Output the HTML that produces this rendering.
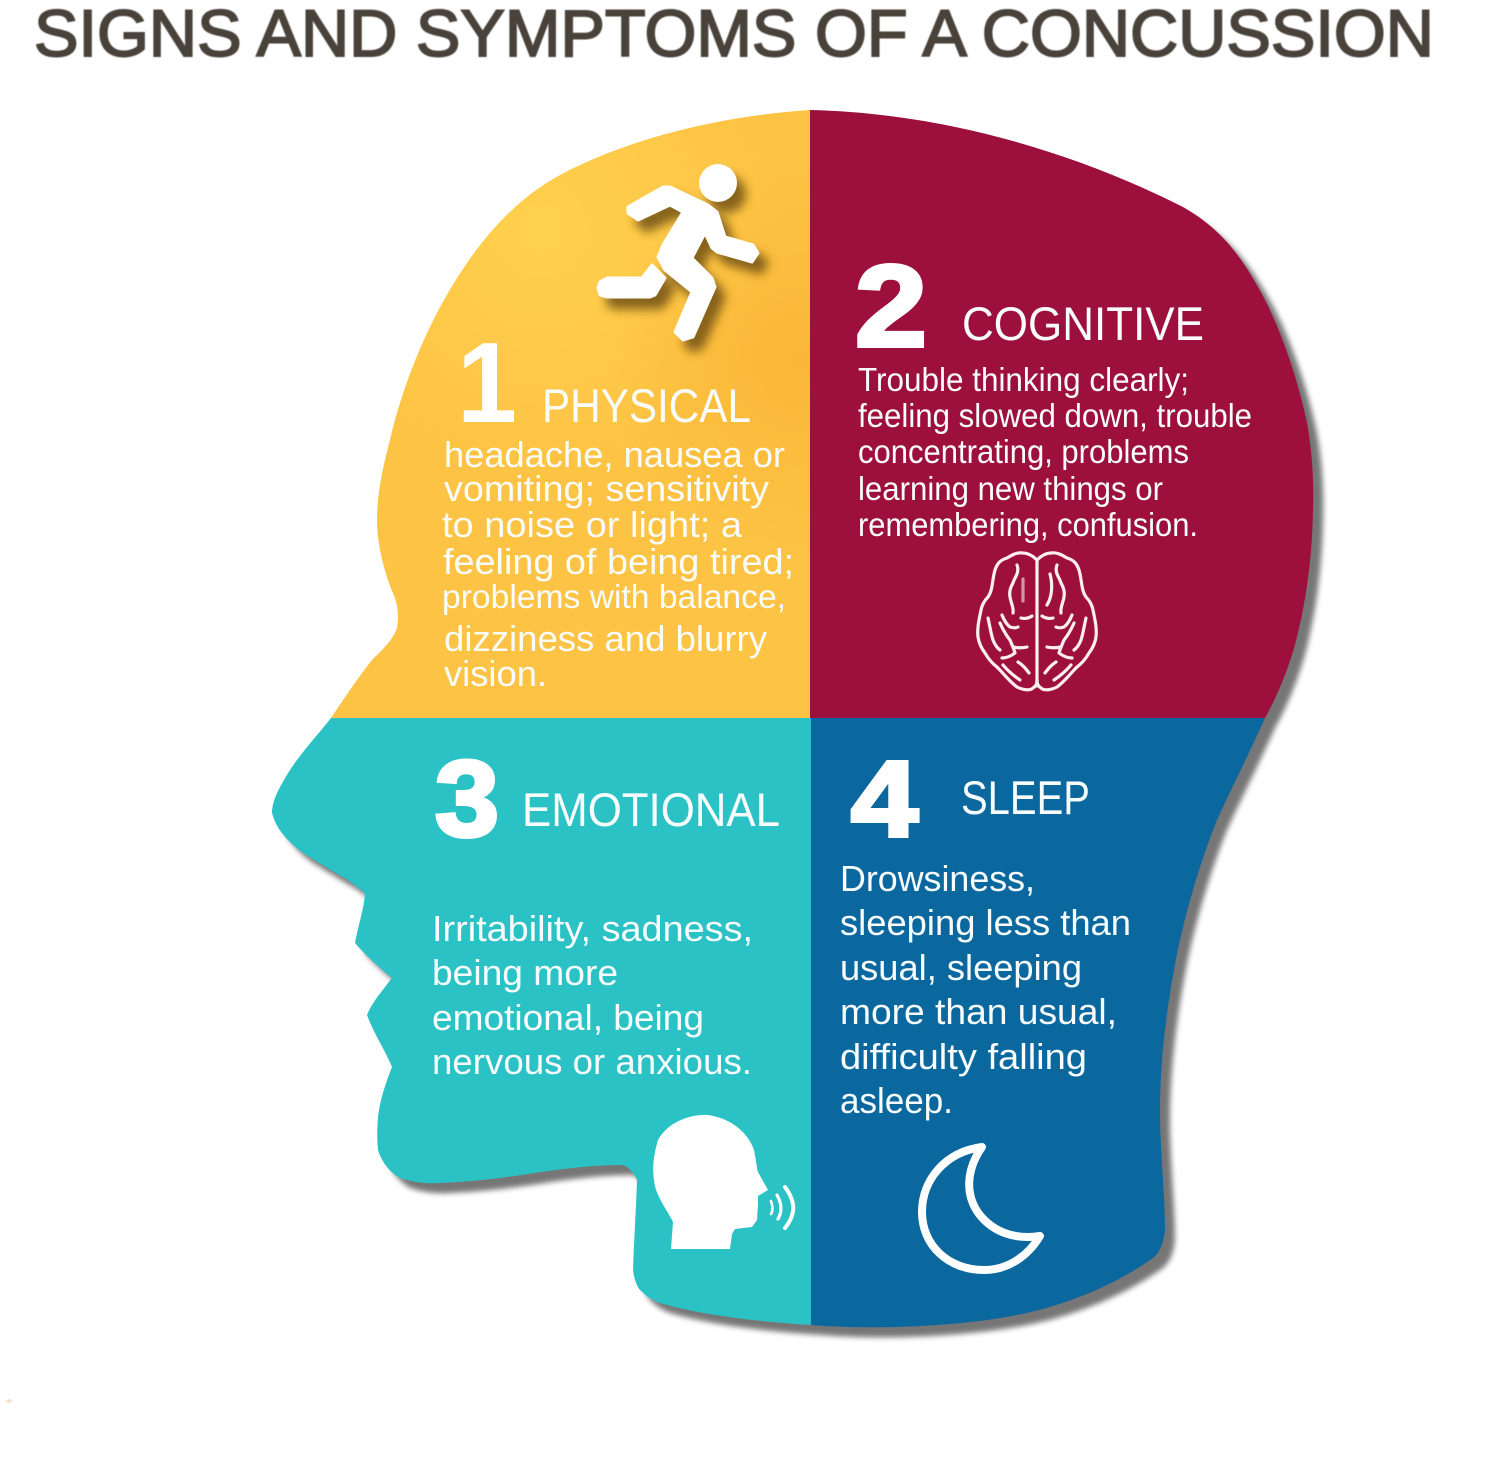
<!DOCTYPE html>
<html><head><meta charset="utf-8"><style>
html,body{margin:0;padding:0;background:#fff;width:1500px;height:1461px;overflow:hidden}
svg{display:block}
text{font-family:"Liberation Sans",sans-serif;fill:#f8fcfc}
.b{font-size:36px}
.h{font-size:47px}
.n{font-weight:bold;font-size:108px;stroke:#fff;stroke-width:4px;fill:#fff}
</style></head><body>
<svg width="1500" height="1461" viewBox="0 0 1500 1461" xmlns="http://www.w3.org/2000/svg">
<defs>
<filter id="s" x="-10%" y="-10%" width="120%" height="120%"><feGaussianBlur stdDeviation="2.6"/></filter>
<filter id="i" x="-30%" y="-30%" width="160%" height="160%"><feGaussianBlur stdDeviation="5"/></filter>
<filter id="t" x="-2%" y="-20%" width="104%" height="140%"><feGaussianBlur stdDeviation="0.6"/></filter>
<radialGradient id="o" gradientUnits="userSpaceOnUse" cx="800" cy="360" r="190"><stop offset="0" stop-color="#f8ac2c" stop-opacity=".55"/><stop offset="1" stop-color="#f8ac2c" stop-opacity="0"/></radialGradient>
<radialGradient id="y" gradientUnits="userSpaceOnUse" cx="540" cy="230" r="240"><stop offset="0" stop-color="#ffd04e"/><stop offset="1" stop-color="#fdc344"/></radialGradient>
</defs>
<ellipse cx="9" cy="1401" rx="3" ry="2" fill="#f3e6c8"/>
<text x="34" y="56" font-size="66" stroke="#49433b" stroke-width="1.9" textLength="1400" lengthAdjust="spacingAndGlyphs" filter="url(#t)" style="fill:#49433b">SIGNS AND SYMPTOMS OF A CONCUSSION</text>

<path d="M810 110C720 116 630 138 560 175C510 202 470 250 437 313C420 345 400 395 390 440C382 470 377 495 377 520C377 545 385 575 393 593C398 605 399 615 397 628C393 640 382 650 372 660C360 675 345 697 331 718C320 732 308 745 297 760C288 772 282 783 277 793C273 802 272 808 272 813C274 820 277 827 282 833C288 841 295 847 303 853C318 862 332 871 348 880L365 893C364 910 358 925 355 943C365 955 380 968 392 978C383 990 372 1002 367 1015C373 1032 385 1050 392 1067C385 1085 380 1100 378 1117C377 1130 377 1140 378 1150C382 1163 390 1172 400 1178C412 1182 425 1184 440 1183C462 1182 485 1180 507 1177C530 1174 552 1170 573 1168C590 1166 608 1165 623 1165C630 1168 634 1173 637 1180C636 1210 634 1240 633 1270C634 1278 636 1285 640 1290C646 1296 652 1300 660 1303C700 1315 760 1322 811 1325C870 1330 980 1328 1050 1307C1090 1295 1125 1278 1153 1258C1160 1252 1164 1243 1165 1229C1165 1195 1160 1150 1160 1110C1160 1055 1168 1000 1177 954C1188 900 1205 850 1217 820C1233 785 1250 752 1265 718C1278 695 1290 665 1297 637C1306 600 1312 560 1313 510C1314 480 1312 450 1307 423C1298 380 1280 325 1258 287C1240 255 1220 228 1183 207C1070 150 940 113 810 110Z" fill="#5e5e5e" opacity=".85" filter="url(#s)" transform="translate(10,10)"/>

<path d="M810 110C720 116 630 138 560 175C510 202 470 250 437 313C420 345 400 395 390 440C382 470 377 495 377 520C377 545 385 575 393 593C398 605 399 615 397 628C393 640 382 650 372 660C360 675 345 697 331 718L330 720L810 720Z" fill="url(#y)"/>
<path d="M810 150L610 150L610 560L810 560Z" fill="url(#o)"/>
<path d="M810 110C940 113 1070 150 1183 207C1220 228 1240 255 1258 287C1280 325 1298 380 1307 423C1312 450 1314 480 1313 510C1312 560 1306 600 1297 637C1290 665 1278 695 1265 718L810 718Z" fill="#9d0f3c"/>
<path d="M331 718C320 732 308 745 297 760C288 772 282 783 277 793C273 802 272 808 272 813C274 820 277 827 282 833C288 841 295 847 303 853C318 862 332 871 348 880L365 893C364 910 358 925 355 943C365 955 380 968 392 978C383 990 372 1002 367 1015C373 1032 385 1050 392 1067C385 1085 380 1100 378 1117C377 1130 377 1140 378 1150C382 1163 390 1172 400 1178C412 1182 425 1184 440 1183C462 1182 485 1180 507 1177C530 1174 552 1170 573 1168C590 1166 608 1165 623 1165C630 1168 634 1173 637 1180C636 1210 634 1240 633 1270C634 1278 636 1285 640 1290C646 1296 652 1300 660 1303C700 1315 760 1322 811 1325L812 718Z" fill="#2bc2c6"/>
<path d="M811 718L1265 718C1250 752 1233 785 1217 820C1205 850 1188 900 1177 954C1168 1000 1160 1055 1160 1110C1160 1150 1165 1195 1165 1229C1164 1243 1160 1252 1153 1258C1125 1278 1090 1295 1050 1307C980 1328 870 1330 811 1325Z" fill="#0b689f"/>

<!-- runner -->
<g fill="#5f420f" stroke="#5f420f" stroke-width="3" stroke-linejoin="round" opacity=".75" filter="url(#i)" transform="translate(9,11)">
<circle cx="718" cy="183" r="19" stroke="none"/>
<path d="M628 207L663 187L670 187L708 205L717 212L725 237L753 245L758 253L752 262L717 252L712 248L705 233L692 258L712 278L715 287L693 337L683 340L675 332L692 292L665 270L658 257L663 245L683 212L670 205L638 220L628 213Z"/>
<path d="M598 288L600 282L607 278L642 278L652 265L665 278L655 295L650 297L607 297L600 295Z"/>
</g>
<circle cx="718" cy="183" r="19" fill="#fff"/>
<g fill="#fff" stroke="#fff" stroke-width="3" stroke-linejoin="round">
<path d="M628 207L663 187L670 187L708 205L717 212L725 237L753 245L758 253L752 262L717 252L712 248L705 233L692 258L712 278L715 287L693 337L683 340L675 332L692 292L665 270L658 257L663 245L683 212L670 205L638 220L628 213Z"/>
<path d="M598 288L600 282L607 278L642 278L652 265L665 278L655 295L650 297L607 297L600 295Z"/>
</g>

<!-- numbers and headings -->
<text x="457" y="422" font-size="114" font-weight="bold" textLength="60" lengthAdjust="spacingAndGlyphs" style="fill:#fff">1</text>
<text class="n" x="855" y="346" textLength="72" lengthAdjust="spacingAndGlyphs" style="font-size:116px">2</text>
<text class="n" x="435" y="836" textLength="64" lengthAdjust="spacingAndGlyphs">3</text>
<text class="n" x="851" y="836" textLength="67" lengthAdjust="spacingAndGlyphs">4</text>
<text class="h" x="542" y="422" textLength="209" lengthAdjust="spacingAndGlyphs">PHYSICAL</text>
<text class="h" x="962" y="340" textLength="242" lengthAdjust="spacingAndGlyphs">COGNITIVE</text>
<text class="h" x="522" y="826" textLength="258" lengthAdjust="spacingAndGlyphs">EMOTIONAL</text>
<text class="h" x="961" y="814" textLength="129" lengthAdjust="spacingAndGlyphs">SLEEP</text>

<!-- physical -->
<text class="b" x="444" y="467" textLength="341" lengthAdjust="spacingAndGlyphs">headache, nausea or</text>
<text class="b" x="444" y="501" textLength="325" lengthAdjust="spacingAndGlyphs">vomiting; sensitivity</text>
<text class="b" x="442" y="537" textLength="300" lengthAdjust="spacingAndGlyphs">to noise or light; a</text>
<text class="b" x="443" y="574" textLength="351" lengthAdjust="spacingAndGlyphs">feeling of being tired;</text>
<text class="b" x="442" y="608" textLength="344" lengthAdjust="spacingAndGlyphs" style="font-size:33px">problems with balance,</text>
<text class="b" x="444" y="651" textLength="323" lengthAdjust="spacingAndGlyphs">dizziness and blurry</text>
<text class="b" x="444" y="686" textLength="103" lengthAdjust="spacingAndGlyphs">vision.</text>

<!-- cognitive -->
<text x="858" y="391" font-size="33" textLength="331" lengthAdjust="spacingAndGlyphs">Trouble thinking clearly;</text>
<text x="858" y="427" font-size="33" textLength="394" lengthAdjust="spacingAndGlyphs">feeling slowed down, trouble</text>
<text x="858" y="463" font-size="33" textLength="331" lengthAdjust="spacingAndGlyphs">concentrating, problems</text>
<text x="858" y="500" font-size="33" textLength="305" lengthAdjust="spacingAndGlyphs">learning new things or</text>
<text x="858" y="536" font-size="33" textLength="340" lengthAdjust="spacingAndGlyphs">remembering, confusion.</text>

<!-- emotional -->
<text class="b" x="432" y="941" textLength="321" lengthAdjust="spacingAndGlyphs">Irritability, sadness,</text>
<text class="b" x="432" y="985" textLength="186" lengthAdjust="spacingAndGlyphs">being more</text>
<text class="b" x="432" y="1030" textLength="272" lengthAdjust="spacingAndGlyphs">emotional, being</text>
<text class="b" x="432" y="1074" textLength="320" lengthAdjust="spacingAndGlyphs">nervous or anxious.</text>

<!-- sleep -->
<text class="b" x="840" y="891" textLength="195" lengthAdjust="spacingAndGlyphs">Drowsiness,</text>
<text class="b" x="840" y="935" textLength="291" lengthAdjust="spacingAndGlyphs">sleeping less than</text>
<text class="b" x="840" y="980" textLength="242" lengthAdjust="spacingAndGlyphs">usual, sleeping</text>
<text class="b" x="840" y="1024" textLength="277" lengthAdjust="spacingAndGlyphs">more than usual,</text>
<text class="b" x="840" y="1069" textLength="247" lengthAdjust="spacingAndGlyphs">difficulty falling</text>
<text class="b" x="840" y="1113" textLength="113" lengthAdjust="spacingAndGlyphs">asleep.</text>

<!-- brain -->
<g fill="none" stroke="#fbeef1" stroke-width="3.2" stroke-linecap="round" stroke-linejoin="round">
<path d="M1037 560V686"/>
<g>
<path d="M1037 560C1032 555 1028 553 1023 553C1017 552 1012 555 1007 558C1000 560 997 564 995 570C992 580 993 590 988 597C984 601 982 605 981 610C979 620 977 628 978 637C979 644 982 649 985 653C989 660 993 664 997 667C1004 674 1010 682 1017 687C1023 690 1030 691 1033 688C1036 686 1037 684 1037 680"/>
<path d="M1017 565C1020 573 1014 578 1013 583C1010 588 1009 592 1010 597C1011 603 1014 608 1013 613"/>
<path d="M1023 579L1023 601" opacity=".6"/><path d="M1021 618C1025 619 1029 618 1032 616"/>
<path d="M988 618C990 627 991 634 993 640C995 645 997 648 1000 650"/>
<path d="M1002 615C1004 620 1006 624 1010 627C1013 628 1016 628 1018 627"/>
<path d="M1000 623C1003 630 1006 635 1010 640C1012 645 1014 649 1015 653C1011 656 1006 658 1002 658"/>
<path d="M1013 647C1018 648 1023 648 1027 647"/>
<path d="M1003 665C1008 671 1014 676 1020 680"/><path d="M1018 662C1023 665 1026 669 1029 673"/>
</g>
<g transform="matrix(-1 0 0 1 2074 0)">
<path d="M1037 560C1032 555 1028 553 1023 553C1017 552 1012 555 1007 558C1000 560 997 564 995 570C992 580 993 590 988 597C984 601 982 605 981 610C979 620 977 628 978 637C979 644 982 649 985 653C989 660 993 664 997 667C1004 674 1010 682 1017 687C1023 690 1030 691 1033 688C1036 686 1037 684 1037 680"/>
<path d="M1017 565C1020 573 1014 578 1013 583C1010 588 1009 592 1010 597C1011 603 1014 608 1013 613"/>
<path d="M1024 574C1021 585 1022 597 1027 605"/><path d="M1021 618C1025 619 1029 618 1032 616"/>
<path d="M988 618C990 627 991 634 993 640C995 645 997 648 1000 650"/>
<path d="M1002 615C1004 620 1006 624 1010 627C1013 628 1016 628 1018 627"/>
<path d="M1000 623C1003 630 1006 635 1010 640C1012 645 1014 649 1015 653C1011 656 1006 658 1002 658"/>
<path d="M1013 647C1018 648 1023 648 1027 647"/>
<path d="M1003 665C1008 671 1014 676 1020 680"/><path d="M1018 662C1023 665 1026 669 1029 673"/>
</g>
</g>

<!-- speaking head -->
<path d="M671 1249L673 1222C670 1215 662 1205 656 1190C652 1175 652 1160 658 1140C668 1122 690 1114 708 1115C730 1118 748 1132 754 1150C757 1165 757 1170 758 1172L768 1190L758 1196L758 1205L757 1220L752 1227L735 1229L732 1234L730 1249Z" fill="#fff"/>
<g fill="none" stroke="#fff" stroke-linecap="round">
<path d="M771 1201C773 1207 773 1211 771 1214" stroke-width="2.5"/>
<path d="M777 1195C782 1204 782 1212 778 1219" stroke-width="3.2"/>
<path d="M785 1187C796 1202 796 1214 785 1228" stroke-width="4"/>
</g>
<!-- moon -->
<path d="M982 1147C945 1152 922 1180 922 1212C922 1245 948 1270 984 1270C1008 1270 1028 1256 1040 1236C1015 1240 993 1232 979 1214C965 1195 966 1170 982 1147Z" fill="none" stroke="#fff" stroke-width="8" stroke-linejoin="round"/>
</svg>
</body></html>
